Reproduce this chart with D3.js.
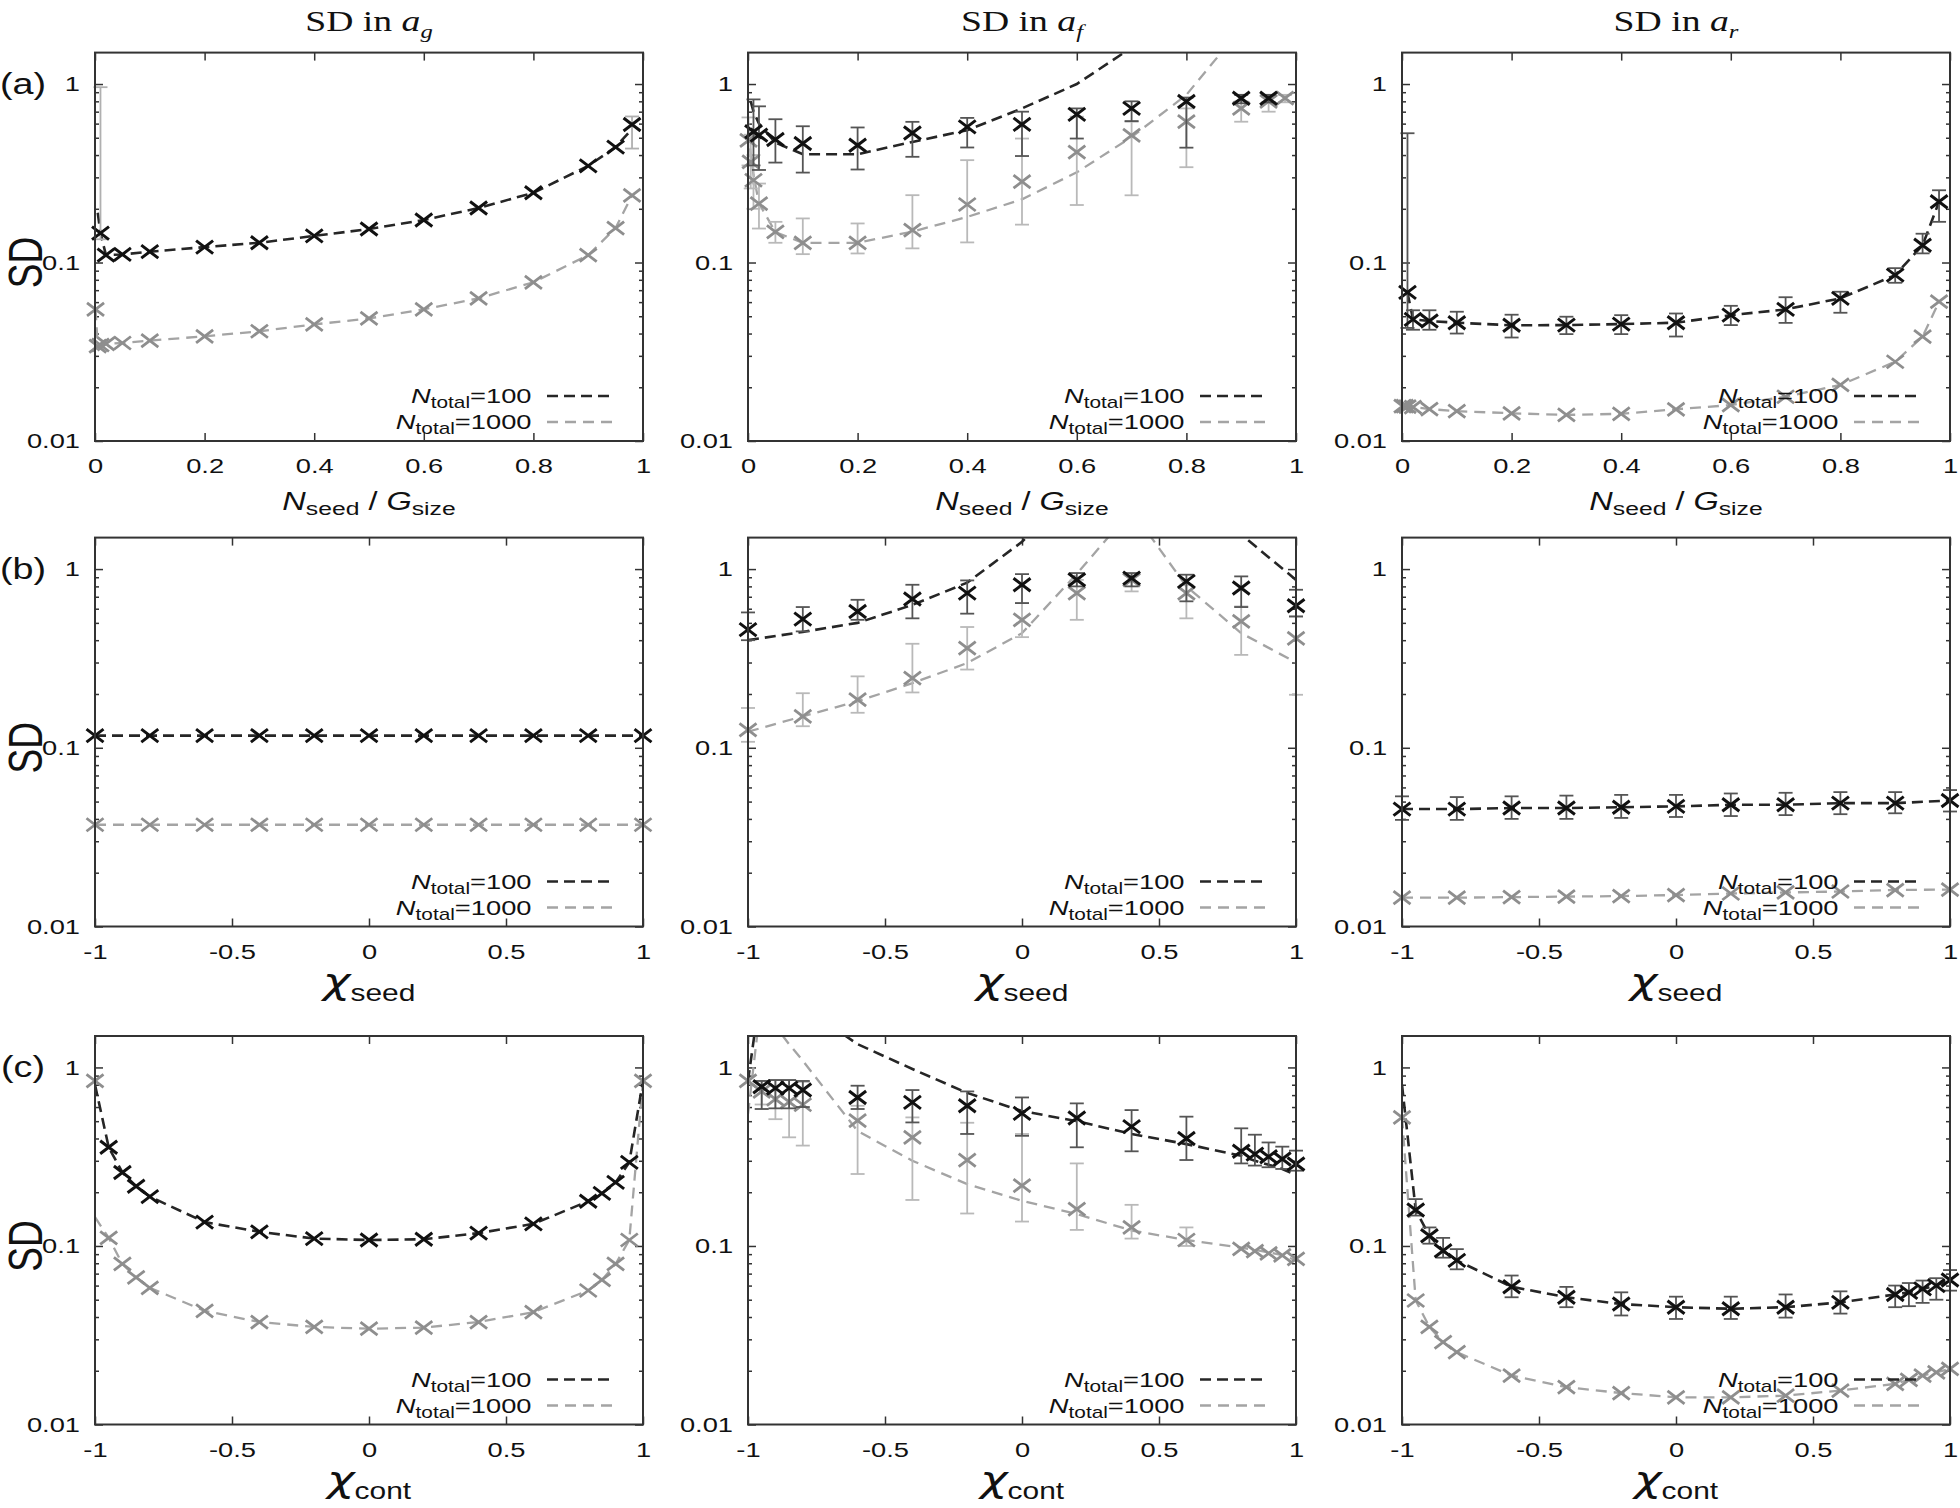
<!DOCTYPE html>
<html><head><meta charset="utf-8">
<script src="https://cdn.jsdelivr.net/npm/d3@7"></script>
<style>
body{margin:0;background:#fff;}
svg{display:block;background:#fff;}
text{fill:#111;}
</style></head><body>
<svg id="c" width="1960" height="1508"></svg>
<script>
// ---------------- DATA ----------------
// tuples: [x, SD, errLow, errHigh]  (missing = no visible error bar)
const a1Black = [[0.01,0.146,0.135,0.96],[0.02,0.110],[0.05,0.111],[0.1,0.115],[0.2,0.122],[0.3,0.129],[0.4,0.141],[0.5,0.154],[0.6,0.173],[0.7,0.202],[0.8,0.246],[0.9,0.348],[0.95,0.443],[0.98,0.593,0.435,0.658]];
const a1Gray = [[0.001,0.0547],[0.005,0.034],[0.01,0.0345],[0.02,0.035],[0.05,0.0354],[0.1,0.0365],[0.2,0.0386],[0.3,0.0412],[0.4,0.045],[0.5,0.0486],[0.6,0.0547],[0.7,0.063],[0.8,0.0775],[0.9,0.11],[0.95,0.156],[0.98,0.238]];
const a1BlackFit = [[0.005,0.19],[0.01,0.146],[0.02,0.110],[0.05,0.111],[0.1,0.115],[0.2,0.122],[0.3,0.129],[0.4,0.141],[0.5,0.154],[0.6,0.173],[0.7,0.202],[0.8,0.246],[0.9,0.348],[0.95,0.443],[0.98,0.56]];
const a1GrayFit = [[0.001,0.0547],[0.005,0.034],[0.01,0.0345],[0.02,0.035],[0.05,0.0354],[0.1,0.0365],[0.2,0.0386],[0.3,0.0412],[0.4,0.045],[0.5,0.0486],[0.6,0.0547],[0.7,0.063],[0.8,0.0775],[0.9,0.11],[0.95,0.156],[0.98,0.238]];

const a2Black = [[0.01,0.54,0.35,0.82],[0.02,0.517,0.33,0.75],[0.05,0.489,0.363,0.635],[0.1,0.464,0.319,0.58],[0.2,0.454,0.332,0.571],[0.3,0.532,0.391,0.614],[0.4,0.575,0.441,0.646],[0.5,0.594,0.395,0.70],[0.6,0.676,0.495,0.73],[0.7,0.731,0.62,0.80],[0.8,0.798,0.44,0.84],[0.9,0.833,0.78,0.87],[0.95,0.833,0.79,0.87]];
const a2Gray = [[0.001,0.484,0.35,0.65],[0.005,0.366,0.26,0.52],[0.01,0.289,0.2,0.4],[0.02,0.214,0.155,0.277],[0.05,0.1486,0.129,0.169],[0.1,0.129,0.1114,0.1766],[0.2,0.129,0.1124,0.1655],[0.3,0.152,0.12,0.2384],[0.4,0.2114,0.1296,0.3745],[0.5,0.284,0.163,0.495],[0.6,0.416,0.21,0.656],[0.7,0.516,0.238,0.615],[0.8,0.615,0.342,0.73],[0.9,0.73,0.615,0.8],[0.95,0.8,0.7,0.85],[0.98,0.833,0.79,0.87]];
const a2BlackFit = [[0.005,0.80],[0.01,0.70],[0.02,0.60],[0.05,0.47],[0.1,0.404],[0.2,0.404],[0.3,0.474],[0.4,0.551],[0.5,0.73],[0.6,1.0],[0.7,1.6]];
const a2GrayFit = [[0.001,0.55],[0.005,0.40],[0.01,0.31],[0.02,0.215],[0.05,0.148],[0.1,0.129],[0.2,0.129],[0.3,0.149],[0.4,0.18],[0.5,0.226],[0.6,0.32],[0.7,0.505],[0.8,0.87],[0.9,2.05]];

const a3Black = [[0.01,0.068,0.043,0.53],[0.02,0.048,0.042,0.054],[0.05,0.047,0.042,0.054],[0.1,0.046,0.040,0.053],[0.2,0.0445,0.038,0.051],[0.3,0.0446,0.0397,0.0497],[0.4,0.0452,0.0397,0.0507],[0.5,0.046,0.0385,0.0518],[0.6,0.0507,0.0446,0.0572],[0.7,0.0546,0.0459,0.0639],[0.8,0.063,0.0523,0.0686],[0.9,0.085,0.077,0.093],[0.95,0.125,0.1125,0.145],[0.98,0.219,0.169,0.254]];
const a3Gray = [[0.001,0.0157],[0.005,0.0157],[0.01,0.0156],[0.02,0.0155],[0.05,0.0151],[0.1,0.0147],[0.2,0.0143],[0.3,0.0140],[0.4,0.0142],[0.5,0.01505],[0.6,0.0159],[0.7,0.0177],[0.8,0.0206],[0.9,0.0278],[0.95,0.0384],[0.98,0.0603]];
const a3BlackFit = [[0.01,0.068],[0.02,0.048],[0.05,0.047],[0.1,0.046],[0.2,0.0445],[0.3,0.0446],[0.4,0.0452],[0.5,0.046],[0.6,0.0507],[0.7,0.0546],[0.8,0.063],[0.9,0.085],[0.95,0.125],[0.98,0.219]];
const a3GrayFit = [[0.001,0.0157],[0.005,0.0157],[0.01,0.0156],[0.02,0.0155],[0.05,0.0151],[0.1,0.0147],[0.2,0.0143],[0.3,0.0140],[0.4,0.0142],[0.5,0.01505],[0.6,0.0159],[0.7,0.0177],[0.8,0.0206],[0.9,0.0278],[0.95,0.0384],[0.98,0.0603]];

const b1Black = [[-1,0.117],[-0.8,0.117],[-0.6,0.117],[-0.4,0.117],[-0.2,0.117],[0,0.117],[0.2,0.117],[0.4,0.117],[0.6,0.117],[0.8,0.117],[1,0.117]];
const b1Gray = [[-1,0.0371],[-0.8,0.0371],[-0.6,0.0371],[-0.4,0.0371],[-0.2,0.0371],[0,0.0371],[0.2,0.0371],[0.4,0.0371],[0.6,0.0371],[0.8,0.0371],[1,0.0371]];
const b1BlackFit = [[-1,0.117],[1,0.117]];
const b1GrayFit = [[-1,0.0371],[1,0.0371]];

const b2Black = [[-1,0.458,0.40,0.572],[-0.8,0.525,0.448,0.613],[-0.6,0.579,0.52,0.673],[-0.4,0.68,0.53,0.817],[-0.2,0.734,0.563,0.864],[0,0.817,0.645,0.937],[0.2,0.872,0.80,0.95],[0.4,0.89,0.80,0.95],[0.6,0.853,0.66,0.93],[0.8,0.783,0.613,0.91],[1,0.623,0.543,0.766]];
const b2Gray = [[-1,0.126,0.108,0.167],[-0.8,0.150,0.132,0.202],[-0.6,0.186,0.157,0.251],[-0.4,0.245,0.204,0.382],[-0.2,0.361,0.274,0.474],[0,0.52,0.416,0.645],[0.2,0.734,0.52,0.87],[0.4,0.87,0.75,0.92],[0.6,0.734,0.53,0.817],[0.8,0.51,0.331,0.618],[1,0.41,0.198,0.543]];
const b2BlackFit = [[-1,0.40],[-0.8,0.445],[-0.6,0.50],[-0.4,0.63],[-0.2,0.84],[0,1.42],[0.2,3.0],[0.4,5.0],[0.6,3.0],[0.8,1.56],[1,0.87]];
const b2GrayFit = [[-1,0.123],[-0.8,0.15],[-0.6,0.182],[-0.4,0.23],[-0.2,0.298],[0,0.438],[0.2,0.94],[0.4,2.14],[0.6,0.80],[0.8,0.438],[1,0.30]];

const b3Black = [[-1,0.0454,0.0395,0.0535],[-0.8,0.0454,0.0395,0.053],[-0.6,0.046,0.040,0.0535],[-0.4,0.046,0.040,0.054],[-0.2,0.0465,0.0405,0.0545],[0,0.047,0.041,0.0545],[0.2,0.048,0.0415,0.0555],[0.4,0.048,0.042,0.056],[0.6,0.049,0.0425,0.0565],[0.8,0.049,0.043,0.0565],[1,0.0507,0.044,0.058]];
const b3Gray = [[-1,0.0145],[-0.8,0.0145],[-0.6,0.0146],[-0.4,0.0147],[-0.2,0.0148],[0,0.0150],[0.2,0.0153],[0.4,0.0155],[0.6,0.0157],[0.8,0.0160],[1,0.0161]];
const b3BlackFit = [[-1,0.0454],[-0.8,0.0454],[-0.6,0.046],[-0.4,0.046],[-0.2,0.0465],[0,0.047],[0.2,0.048],[0.4,0.048],[0.6,0.049],[0.8,0.049],[1,0.0507]];
const b3GrayFit = [[-1,0.0145],[-0.8,0.0145],[-0.6,0.0146],[-0.4,0.0147],[-0.2,0.0148],[0,0.0150],[0.2,0.0153],[0.4,0.0155],[0.6,0.0157],[0.8,0.0160],[1,0.0161]];

const c1Black = [[-0.95,0.357],[-0.9,0.258],[-0.85,0.216],[-0.8,0.189],[-0.6,0.136],[-0.4,0.120],[-0.2,0.110],[0,0.108],[0.2,0.109],[0.4,0.118],[0.6,0.133],[0.8,0.178],[0.85,0.197],[0.9,0.227],[0.95,0.294]];
const c1Gray = [[-1,0.842],[-0.95,0.111],[-0.9,0.0793],[-0.85,0.0667],[-0.8,0.0583],[-0.6,0.0433],[-0.4,0.0375],[-0.2,0.0352],[0,0.0344],[0.2,0.0349],[0.4,0.0375],[0.6,0.0426],[0.8,0.0563],[0.85,0.0645],[0.9,0.0793],[0.95,0.108],[1,0.842]];
const c1BlackFit = [[-1,0.80],[-0.95,0.357],[-0.9,0.258],[-0.85,0.216],[-0.8,0.189],[-0.6,0.136],[-0.4,0.120],[-0.2,0.110],[0,0.108],[0.2,0.109],[0.4,0.118],[0.6,0.133],[0.8,0.178],[0.85,0.197],[0.9,0.227],[0.95,0.294],[1,0.84]];
const c1GrayFit = [[-1,0.145],[-0.95,0.111],[-0.9,0.0793],[-0.85,0.0667],[-0.8,0.0583],[-0.6,0.0433],[-0.4,0.0375],[-0.2,0.0352],[0,0.0344],[0.2,0.0349],[0.4,0.0375],[0.6,0.0426],[0.8,0.0563],[0.85,0.0645],[0.9,0.0793],[0.95,0.108],[1,0.84]];

const c2Black = [[-0.95,0.78,0.585,0.84],[-0.9,0.766,0.59,0.85],[-0.85,0.766,0.59,0.85],[-0.8,0.747,0.6,0.84],[-0.6,0.679,0.585,0.79],[-0.4,0.637,0.492,0.747],[-0.2,0.61,0.424,0.734],[0,0.553,0.414,0.679],[0.2,0.521,0.357,0.629],[0.4,0.466,0.339,0.577],[0.6,0.40,0.303,0.53],[0.8,0.339,0.29,0.456],[0.85,0.327,0.282,0.42],[0.9,0.316,0.276,0.38],[0.95,0.307,0.27,0.36],[1,0.288,0.264,0.342]];
const c2Gray = [[-1,0.842],[-0.95,0.734,0.62,0.84],[-0.9,0.665,0.513,0.85],[-0.85,0.642,0.406,0.85],[-0.8,0.618,0.365,0.83],[-0.6,0.503,0.253,0.61],[-0.4,0.406,0.181,0.525],[-0.2,0.303,0.152,0.49],[0,0.218,0.137,0.424],[0.2,0.161,0.123,0.29],[0.4,0.127,0.11,0.17],[0.6,0.108,0.1,0.127],[0.8,0.0962],[0.85,0.0935],[0.9,0.091],[0.95,0.0885],[1,0.0846]];
const c2BlackFit = [[-1,0.84],[-0.95,3.0],[-0.9,4.0],[-0.85,4.0],[-0.8,2.2],[-0.6,1.35],[-0.4,0.98],[-0.2,0.72],[0,0.57],[0.2,0.50],[0.4,0.424],[0.6,0.372],[0.8,0.32],[0.85,0.30],[0.9,0.285],[0.95,0.27],[1,0.25]];
const c2GrayFit = [[-1,0.55],[-0.95,2.5],[-0.9,1.7],[-0.85,1.35],[-0.8,1.09],[-0.6,0.44],[-0.4,0.30],[-0.2,0.222],[0,0.179],[0.2,0.151],[0.4,0.122],[0.6,0.108],[0.8,0.098],[0.85,0.095],[0.9,0.092],[0.95,0.089],[1,0.083]];

const c3Black = [[-0.95,0.159,0.148,0.183],[-0.9,0.114,0.103,0.127],[-0.85,0.094,0.086,0.111],[-0.8,0.083,0.074,0.096],[-0.6,0.0591,0.0516,0.0683],[-0.4,0.0516,0.0454,0.059],[-0.2,0.0473,0.0408,0.055],[0,0.0454,0.039,0.052],[0.2,0.0445,0.039,0.052],[0.4,0.0454,0.0397,0.0535],[0.6,0.0483,0.0418,0.0557],[0.8,0.0535,0.0454,0.060],[0.85,0.055,0.046,0.062],[0.9,0.0575,0.048,0.064],[0.95,0.060,0.050,0.066],[1,0.0645,0.0562,0.0733]];
const c3Gray = [[-1,0.525],[-0.95,0.0495],[-0.9,0.0352],[-0.85,0.0289],[-0.8,0.0254],[-0.6,0.0188],[-0.4,0.0162],[-0.2,0.0150],[0,0.0142],[0.2,0.0142],[0.4,0.0145],[0.6,0.0155],[0.8,0.0169],[0.85,0.0178],[0.9,0.0188],[0.95,0.0196],[1,0.0205]];
const c3BlackFit = [[-1,0.80],[-0.95,0.159],[-0.9,0.114],[-0.85,0.094],[-0.8,0.083],[-0.6,0.0591],[-0.4,0.0516],[-0.2,0.0473],[0,0.0454],[0.2,0.0445],[0.4,0.0454],[0.6,0.0483],[0.8,0.0535],[0.85,0.055],[0.9,0.0575],[0.95,0.060],[1,0.0645]];
const c3GrayFit = [[-1,0.525],[-0.95,0.0495],[-0.9,0.0352],[-0.85,0.0289],[-0.8,0.0254],[-0.6,0.0188],[-0.4,0.0162],[-0.2,0.0150],[0,0.0142],[0.2,0.0142],[0.4,0.0145],[0.6,0.0155],[0.8,0.0169],[0.85,0.0178],[0.9,0.0188],[0.95,0.0196],[1,0.0205]];

// ticks & labels
const xTicksRowA = [0,0.2,0.4,0.6,0.8,1];
const xTickLabelsRowA = ["0","0.2","0.4","0.6","0.8","1"];
const xTicksRowBC = [-1,-0.5,0,0.5,1];
const xTickLabelsRowBC = ["-1","-0.5","0","0.5","1"];
const yTicks = [1,0.1,0.01];
const yTickLabels = ["1","0.1","0.01"];
const yMinorTicks = [0.02,0.03,0.04,0.05,0.06,0.07,0.08,0.09,0.2,0.3,0.4,0.5,0.6,0.7,0.8,0.9];
const colTitleSubs = ["g","f","r"];
const rowTags = ["(a)","(b)","(c)"];
const legendLabels = ["=100","=1000"];

// ---------------- LAYOUT ----------------
const SX = 1.3; // horizontal stretch of the original figure
const SANS = "'Liberation Sans', Arial, Helvetica, sans-serif";
const SERIF = "'Liberation Serif', 'Times New Roman', serif";
const colBox = [[95,643],[748,1296],[1402,1950]];
const rowBox = [[52.6,441],[537.6,926.5],[1036,1424.5]];
const svg = d3.select("#c");
const defs = svg.append("defs");

const panels = [
  [a1Black,a1Gray,a1BlackFit,a1GrayFit],[a2Black,a2Gray,a2BlackFit,a2GrayFit],[a3Black,a3Gray,a3BlackFit,a3GrayFit],
  [b1Black,b1Gray,b1BlackFit,b1GrayFit],[b2Black,b2Gray,b2BlackFit,b2GrayFit],[b3Black,b3Gray,b3BlackFit,b3GrayFit],
  [c1Black,c1Gray,c1BlackFit,c1GrayFit],[c2Black,c2Gray,c2BlackFit,c2GrayFit],[c3Black,c3Gray,c3BlackFit,c3GrayFit]
];

const style = {
  black:{mark:"#111", err:"#555", fit:"#262626", fitW:2.6, dash:"11,6", markW:3},
  gray:{mark:"#8e8e8e", err:"#b9b9b9", fit:"#a4a4a4", fitW:2.3, dash:"11,7", markW:2.8}
};

function sText(parent, x, y, anchor, size, family){
  return parent.append("text")
    .attr("transform", `translate(${x},${y}) scale(${SX},1)`)
    .attr("text-anchor", anchor)
    .style("font-family", family || SANS)
    .style("font-size", size + "px");
}

panels.forEach((p, i) => {
  const row = Math.floor(i/3), col = i%3;
  const [x0,x1] = colBox[col], [y0,y1] = rowBox[row];
  const xs = d3.scaleLinear().domain(row===0?[0,1]:[-1,1]).range([x0,x1]);
  const ys = d3.scaleLog().domain([0.01,1.5]).range([y1,y0]);
  const g = svg.append("g");
  const clipId = "clip"+i;
  defs.append("clipPath").attr("id",clipId).append("rect")
    .attr("x",x0).attr("y",y0).attr("width",x1-x0).attr("height",y1-y0);

  const xt = row===0 ? xTicksRowA : xTicksRowBC;
  const xl = row===0 ? xTickLabelsRowA : xTickLabelsRowBC;

  const axStyle = sel => {
    sel.select(".domain").remove();
    sel.selectAll(".tick line").attr("stroke","#333").attr("stroke-width",1.5);
    sel.selectAll(".tick text").attr("fill","#111").style("font-family",SANS).style("font-size","21px");
  };
  const bx = g.append("g").attr("transform",`translate(0,${y1})`)
    .call(d3.axisBottom(xs).tickValues(xt).tickSize(-8).tickPadding(17.5).tickFormat((d,k)=>xl[k]));
  axStyle(bx);
  bx.selectAll(".tick text").attr("transform",`scale(${SX},1)`);
  const tx = g.append("g").attr("transform",`translate(0,${y0})`)
    .call(d3.axisTop(xs).tickValues(xt).tickSize(-8).tickFormat(""));
  axStyle(tx);
  const ly = g.append("g").attr("transform",`translate(${x0},0)`)
    .call(d3.axisLeft(ys).tickValues(yTicks).tickSize(-8).tickPadding(11.5).tickFormat((d,k)=>yTickLabels[k]));
  axStyle(ly);
  ly.selectAll(".tick text").attr("transform",`scale(${SX},1)`);
  const lym = g.append("g").attr("transform",`translate(${x0},0)`)
    .call(d3.axisLeft(ys).tickValues(yMinorTicks).tickSize(-4).tickFormat(""));
  axStyle(lym);
  const ry = g.append("g").attr("transform",`translate(${x1},0)`)
    .call(d3.axisRight(ys).tickValues(yTicks).tickSize(-8).tickFormat(""));
  axStyle(ry);
  const rym = g.append("g").attr("transform",`translate(${x1},0)`)
    .call(d3.axisRight(ys).tickValues(yMinorTicks).tickSize(-4).tickFormat(""));
  axStyle(rym);

  const [blk, gry, blkFit, gryFit] = p;
  const line = d3.line().x(d=>xs(d[0])).y(d=>ys(d[1]));
  const fits = g.append("g").attr("clip-path",`url(#${clipId})`);
  [[gryFit,style.gray],[blkFit,style.black]].forEach(([f,s])=>{
    fits.append("path").datum(f).attr("d",line).attr("fill","none")
      .attr("stroke",s.fit).attr("stroke-width",s.fitW).attr("stroke-dasharray",s.dash);
  });

  [[gry,style.gray],[blk,style.black]].forEach(([data,s])=>{
    const errColor = (i===0 && s===style.black) ? "#b0b0b0" : s.err;
    const eg = g.append("g").attr("stroke",errColor).attr("stroke-width",1.8).attr("fill","none");
    data.filter(d=>d[2]!=null).forEach(d=>{
      const x = xs(d[0]), ya = ys(d[2]), yb = ys(d[3]);
      eg.append("line").attr("x1",x).attr("x2",x).attr("y1",ya).attr("y2",yb);
      eg.append("line").attr("x1",x-7).attr("x2",x+7).attr("y1",ya).attr("y2",ya);
      eg.append("line").attr("x1",x-7).attr("x2",x+7).attr("y1",yb).attr("y2",yb);
    });
    g.append("g").selectAll("path").data(data).join("path")
      .attr("transform",d=>`translate(${xs(d[0])},${ys(d[1])})`)
      .attr("d","M-8.5,-6.5L8.5,6.5M-8.5,6.5L8.5,-6.5")
      .attr("stroke",s.mark).attr("stroke-width",s.markW).attr("fill","none");
  });

  g.append("rect").attr("x",x0).attr("y",y0).attr("width",x1-x0).attr("height",y1-y0)
    .attr("fill","none").attr("stroke","#333").attr("stroke-width",2);

  // legend
  [[0,style.black],[1,style.gray]].forEach(([k,s])=>{
    const ly0 = y1 - 45 + k*26;
    const t = sText(g, x1-111.5, ly0+7, "end", 21);
    t.append("tspan").style("font-style","italic").text("N");
    t.append("tspan").style("font-size","16px").attr("dy",5).text("total");
    t.append("tspan").attr("dy",-5).text(legendLabels[k]);
    g.append("line").attr("x1",x1-96).attr("x2",x1-30).attr("y1",ly0).attr("y2",ly0)
      .attr("stroke",s.fit).attr("stroke-width",s.fitW).attr("stroke-dasharray",s.dash);
  });

  // x-axis label
  const cx = (x0+x1)/2;
  if(row===0){
    const t = sText(g, cx, y1+69, "middle", 25);
    t.append("tspan").style("font-style","italic").text("N");
    t.append("tspan").style("font-size","19px").attr("dy",5).text("seed");
    t.append("tspan").attr("dy",-5).text(" / ");
    t.append("tspan").style("font-style","italic").text("G");
    t.append("tspan").style("font-size","19px").attr("dy",5).text("size");
  } else {
    const t = sText(g, cx, y1+67, "middle", 36);
    t.append("tspan").style("font-family","'DejaVu Sans', sans-serif").style("font-style","oblique").text("χ");
    t.append("tspan").style("font-size","23px").attr("dy",7).text(row===1?"seed":"cont");
  }

  if(row===0){
    const t = sText(g, cx, 31, "middle", 29, SERIF);
    t.append("tspan").text("SD in ");
    t.append("tspan").style("font-style","italic").text("a");
    t.append("tspan").style("font-style","italic").style("font-size","19px").attr("dy",7).text(colTitleSubs[col]);
  }
  if(col===0){
    sText(g, 23, ys(1)+10, "middle", 29).text(rowTags[row]);
    g.append("text").attr("transform",`translate(25,${ys(0.1)}) scale(${SX},1) rotate(-90)`)
      .attr("text-anchor","middle").attr("dy","0.36em")
      .style("font-family",SANS).style("font-size","37px").text("SD");
  }
});
</script>
</body></html>
